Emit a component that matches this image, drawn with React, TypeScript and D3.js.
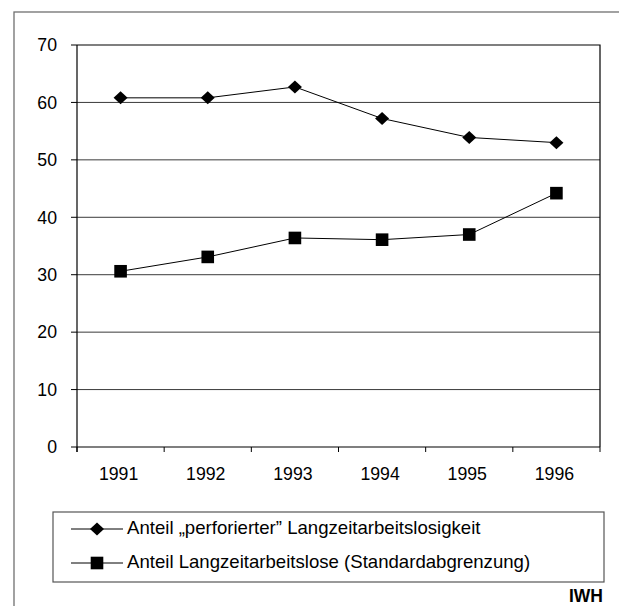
import React, { useRef, useEffect } from 'react';
import * as d3 from 'd3';

// chart data
const years = ['1991', '1992', '1993', '1994', '1995', '1996'];
const perforiert = [60.8, 60.8, 62.7, 57.2, 53.9, 53.0];
const standard = [30.6, 33.1, 36.4, 36.1, 37.0, 44.2];
const yTicks = [0, 10, 20, 30, 40, 50, 60, 70];
const seriesNames = [
  'Anteil „perforierter” Langzeitarbeitslosigkeit',
  'Anteil Langzeitarbeitslose (Standardabgrenzung)',
];

const App = () => {
  const ref = useRef<SVGSVGElement>(null);

  useEffect(() => {
    const width = 619;
    const height = 606;
    const margin = { top: 45, right: 19, bottom: 159, left: 77 };
    const font = 'Arial, "Liberation Sans", Helvetica, sans-serif';

    const svg = d3.select(ref.current)
      .attr('width', width)
      .attr('height', height);
    svg.selectAll('*').remove();

    // outer frame (continues past the right/bottom of the picture)
    svg.append('rect')
      .attr('x', 14).attr('y', 12)
      .attr('width', 700).attr('height', 700)
      .attr('fill', 'none').attr('stroke', '#707070').attr('stroke-width', 1.3);

    const x = d3.scaleBand()
      .domain(years)
      .range([margin.left, width - margin.right])
      .padding(0);

    const y = d3.scaleLinear()
      .domain([0, 70])
      .range([height - margin.bottom, margin.top]);

    // gridlines
    svg.append('g')
      .selectAll('line')
      .data(yTicks.filter(d => d > 0 && d < 70))
      .enter().append('line')
      .attr('x1', margin.left).attr('x2', width - margin.right)
      .attr('y1', d => y(d)).attr('y2', d => y(d))
      .attr('stroke', '#3a3a3a').attr('stroke-width', 1);

    // plot border top + right
    svg.append('path')
      .attr('d', `M${margin.left},${y(70)}H${width - margin.right}V${y(0)}`)
      .attr('fill', 'none').attr('stroke', '#000').attr('stroke-width', 1.2);

    // x axis with ticks between categories
    const xAxis = svg.append('g')
      .attr('transform', `translate(0,${y(0)})`);
    xAxis.append('line')
      .attr('x1', margin.left).attr('x2', width - margin.right)
      .attr('stroke', '#000').attr('stroke-width', 1.2);
    const bounds = years.map(d => x(d) as number).concat([width - margin.right]);
    xAxis.selectAll('.tk')
      .data(bounds)
      .enter().append('line')
      .attr('x1', d => d).attr('x2', d => d)
      .attr('y1', 0).attr('y2', 5)
      .attr('stroke', '#000');
    xAxis.selectAll('text')
      .data(years)
      .enter().append('text')
      .attr('x', d => (x(d) as number) + x.bandwidth() / 2 - 2)
      .attr('y', 33)
      .attr('text-anchor', 'middle')
      .attr('font-family', font).attr('font-size', 17.7)
      .text(d => d);

    // y axis
    const yAxis = svg.append('g');
    yAxis.append('line')
      .attr('x1', margin.left).attr('x2', margin.left)
      .attr('y1', y(70)).attr('y2', y(0) + 5)
      .attr('stroke', '#000').attr('stroke-width', 1.2);
    yAxis.selectAll('.tk')
      .data(yTicks)
      .enter().append('line')
      .attr('x1', margin.left - 6).attr('x2', margin.left)
      .attr('y1', d => y(d)).attr('y2', d => y(d))
      .attr('stroke', '#000');
    yAxis.selectAll('text')
      .data(yTicks)
      .enter().append('text')
      .attr('x', 57)
      .attr('y', d => y(d) + 6.3)
      .attr('text-anchor', 'end')
      .attr('font-family', font).attr('font-size', 17.7)
      .text(d => d);

    const cx = (i: number) => (x(years[i]) as number) + x.bandwidth() / 2;
    const line = d3.line<number>()
      .x((d, i) => cx(i))
      .y(d => y(d));

    const diamond = (sx: number, sy: number) =>
      `M${sx},${sy - 6.5}L${sx + 7},${sy}L${sx},${sy + 6.5}L${sx - 7},${sy}Z`;

    // series 1: diamonds
    svg.append('path')
      .datum(perforiert)
      .attr('d', line)
      .attr('fill', 'none').attr('stroke', '#000').attr('stroke-width', 1);
    svg.append('g').selectAll('path')
      .data(perforiert)
      .enter().append('path')
      .attr('d', (d, i) => diamond(cx(i), y(d)))
      .attr('fill', '#000');

    // series 2: squares
    svg.append('path')
      .datum(standard)
      .attr('d', line)
      .attr('fill', 'none').attr('stroke', '#000').attr('stroke-width', 1);
    svg.append('g').selectAll('rect')
      .data(standard)
      .enter().append('rect')
      .attr('x', (d, i) => cx(i) - 6.3)
      .attr('y', d => y(d) - 6.3)
      .attr('width', 12.6).attr('height', 12.6)
      .attr('fill', '#000');

    // legend
    const lg = svg.append('g');
    lg.append('rect')
      .attr('x', 53).attr('y', 512)
      .attr('width', 551).attr('height', 70)
      .attr('fill', '#fff').attr('stroke', '#555').attr('stroke-width', 1.2);
    const rows = [529, 563];
    seriesNames.forEach((name, i) => {
      const ly = rows[i];
      lg.append('line')
        .attr('x1', 71).attr('x2', 123)
        .attr('y1', ly).attr('y2', ly)
        .attr('stroke', '#000').attr('stroke-width', 1);
      if (i === 0) {
        lg.append('path').attr('d', diamond(97, ly)).attr('fill', '#000');
      } else {
        lg.append('rect')
          .attr('x', 97 - 6.3).attr('y', ly - 6.3)
          .attr('width', 12.6).attr('height', 12.6)
          .attr('fill', '#000');
      }
      lg.append('text')
        .attr('x', 127).attr('y', ly + 5)
        .attr('font-family', font).attr('font-size', 18.6)
        .text(name);
    });

    svg.append('text')
      .attr('x', 603).attr('y', 602)
      .attr('text-anchor', 'end')
      .attr('font-family', font).attr('font-size', 17.5)
      .attr('font-weight', 'bold')
      .text('IWH');
  }, []);

  return (
    <svg ref={ref} style={{ position: 'absolute', left: 0, top: 0, background: '#fff' }}></svg>
  );
};

export default App;
